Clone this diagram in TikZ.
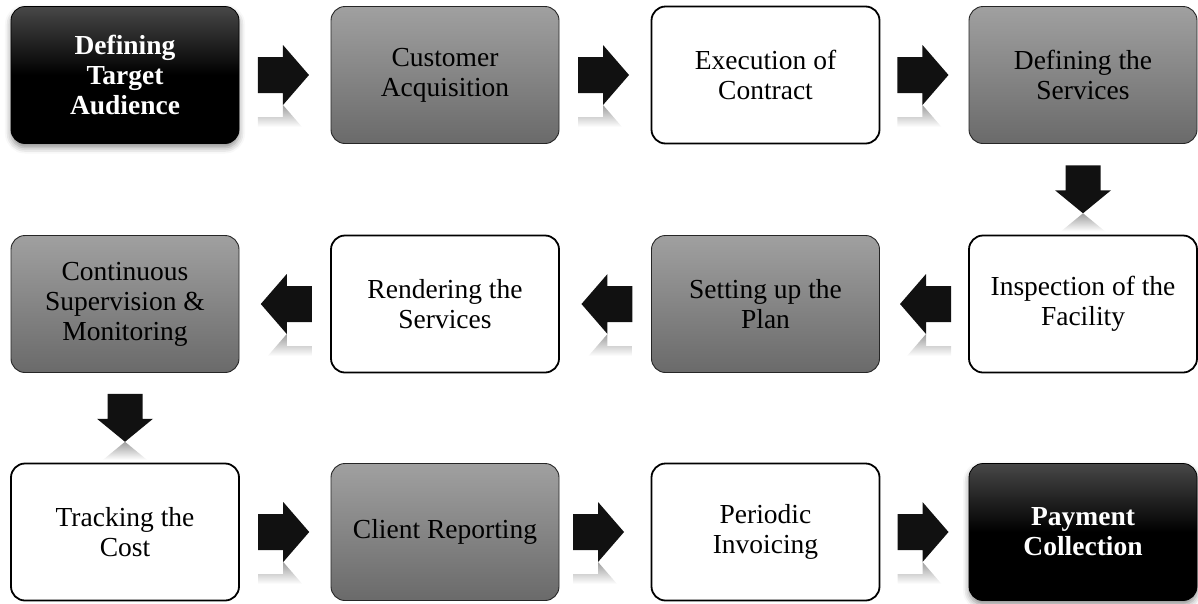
\documentclass[tikz,border=0pt]{standalone}
\usepackage{fontspec}
\setmainfont{Liberation Serif}
\usetikzlibrary{calc,shadows.blur}
\definecolor{gtop}{HTML}{A0A0A0}
\definecolor{gbot}{HTML}{6A6A6A}
\definecolor{arrowcol}{HTML}{111111}
\tikzset{
  box/.style={rounded corners=14pt, minimum width=228pt, minimum height=137pt,
    align=center, inner sep=0pt,
    font=\fontsize{27.5}{30}\selectfont},
  whitebox/.style={box, draw=black, line width=1.8pt, fill=white},
  graybox/.style={box, draw=black!85, line width=0.9pt, top color=gtop, bottom color=gbot},
  blackbox/.style={box, draw=black, line width=0.8pt, top color=black!72,
    bottom color=black, middle color=black, text=white,
    font=\bfseries\fontsize{27.5}{30}\selectfont,
    blur shadow={shadow xshift=0pt, shadow yshift=-4pt, shadow blur radius=6pt, shadow opacity=45}},
  rarrow/.pic={
    \fill[arrowcol] (-27,-18) -- (-2,-18) -- (-2,-30) -- (24,0) -- (-2,30) -- (-2,18) -- (-27,18) -- cycle;
    \begin{scope}
      \clip (-27,42) -- (-2,42) -- (-2,30) -- (24,60) -- (-2,90) -- (-2,78) -- (-27,78) -- cycle;
      \shade[top color=black!38, bottom color=white] (-28,30) rectangle (25,52);
    \end{scope}
  },
  darrow/.pic={
    \fill[arrowcol] (-17.5,-24) -- (17.5,-24) -- (17.5,1) -- (28,1) -- (0,24) -- (-28,1) -- (-17.5,1) -- cycle;
    \begin{scope}
      \clip (0,24) -- (28,47) -- (17.5,47) -- (17.5,72) -- (-17.5,72) -- (-17.5,47) -- (-28,47) -- cycle;
      \shade[top color=black!38, bottom color=white] (-29,24) rectangle (29,42);
    \end{scope}
  }
}
\begin{document}
\begin{tikzpicture}[x=1pt,y=-1pt]
\useasboundingbox (0,0) rectangle (1198,603);
% row 1
\node[blackbox] (n1) at (125,75) {Defining\\Target\\Audience};
\node[graybox]  (n2) at (445,75) {Customer\\Acquisition};
\node[whitebox] (n3) at (765.5,75) {Execution of\\Contract};
\node[graybox]  (n4) at (1083,75) {Defining the\\Services};
% row 2
\node[whitebox] (n5) at (1083,304) {Inspection of the\\Facility};
\node[graybox]  (n6) at (765.5,304) {Setting up the\\Plan};
\node[whitebox] (n7) at (445,304) {Rendering the\\Services};
\node[graybox]  (n8) at (125,304) {Continuous\\Supervision \&\\Monitoring};
% row 3
\node[whitebox] (n9)  at (125,532) {Tracking the\\Cost};
\node[graybox]  (n10) at (445,532) {Client Reporting};
\node[whitebox] (n11) at (765.5,532) {Periodic\\Invoicing};
\node[blackbox] (n12) at (1083,532) {Payment\\Collection};
% arrows
\pic at ($(n1.east)!0.5!(n2.west)$) {rarrow};
\pic at ($(n2.east)!0.5!(n3.west)$) {rarrow};
\pic at ($(n3.east)!0.5!(n4.west)$) {rarrow};
\pic at ($(n4.south)!0.5!(n5.north)$) {darrow};
\pic[xscale=-1] at ($(n5.west)!0.5!(n6.east)$) {rarrow};
\pic[xscale=-1] at ($(n6.west)!0.5!(n7.east)$) {rarrow};
\pic[xscale=-1] at ($(n7.west)!0.5!(n8.east)$) {rarrow};
\pic at ($(n8.south)!0.5!(n9.north)$) {darrow};
\pic at ($(n9.east)!0.5!(n10.west)$) {rarrow};
\pic at ($(n10.east)!0.5!(n11.west)+(-5,0)$) {rarrow};
\pic at ($(n11.east)!0.5!(n12.west)$) {rarrow};
\end{tikzpicture}
\end{document}
